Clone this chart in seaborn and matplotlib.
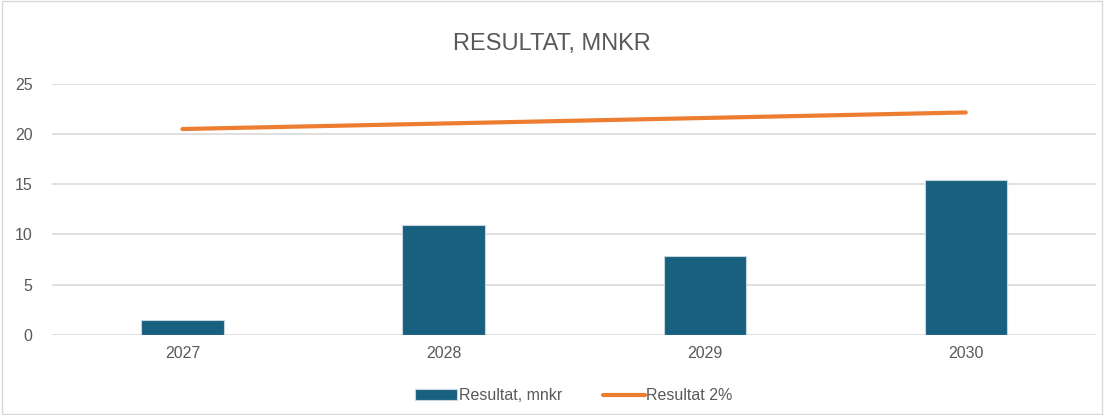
import numpy as np
import pandas as pd
import matplotlib.pyplot as plt
import seaborn as sns
from matplotlib.patches import Rectangle

years = ["2027", "2028", "2029", "2030"]
resultat = [1.5, 10.9, 7.9, 15.4]
resultat_2pct = [20.5, 21.05, 21.6, 22.15]

df = pd.DataFrame({"Year": years, "Resultat": resultat, "Resultat2": resultat_2pct})

sns.set_style("white")
plt.rcParams["font.family"] = ["Liberation Sans", "DejaVu Sans"]

bar_color = "#17607F"
line_color = "#ED7D31"
text_color = "#595959"

fig = plt.figure(figsize=(11.04, 4.15), dpi=100)
ax = fig.add_axes([0.047, 0.193, 0.946, 0.605])

sns.barplot(data=df, x="Year", y="Resultat", color=bar_color, width=0.315,
            edgecolor="#c8d4dc", linewidth=0.8, saturation=1,
            label="Resultat, mnkr", ax=ax, zorder=2)
sns.lineplot(x=np.arange(len(years)), y=df["Resultat2"], color=line_color,
             linewidth=3, label="Resultat 2%", ax=ax, zorder=3)

ax.set_ylim(0, 25)
ax.set_xlim(-0.5, len(years) - 0.5)
ax.set_yticks(range(0, 26, 5))
ax.yaxis.grid(True, color="#d9d9d9", linewidth=1.2, zorder=0)
ax.set_axisbelow(True)
for s in ax.spines.values():
    s.set_visible(False)
ax.set_xlabel("")
ax.set_ylabel("")
ax.tick_params(axis="both", length=0, labelsize=11.5, labelcolor=text_color)
ax.tick_params(axis="y", pad=14)
ax.tick_params(axis="x", pad=8)

fig.suptitle("RESULTAT, MNKR", y=0.92, fontsize=17, color=text_color)

# bar first, then line
handles, labels = ax.get_legend_handles_labels()
order = [labels.index("Resultat, mnkr"), labels.index("Resultat 2%")]
ax.legend([handles[i] for i in order], [labels[i] for i in order],
          loc="upper center", bbox_to_anchor=(0.5, -0.155), ncol=2, frameon=False,
          fontsize=11.5, labelcolor=text_color, handlelength=2.6,
          handletextpad=0.1, columnspacing=2.6)

fig.patches.append(Rectangle((0.002, 0.002), 0.996, 0.996, transform=fig.transFigure,
                             fill=False, edgecolor="#d9d9d9", linewidth=1))

fig.savefig("out.png", dpi=100)
